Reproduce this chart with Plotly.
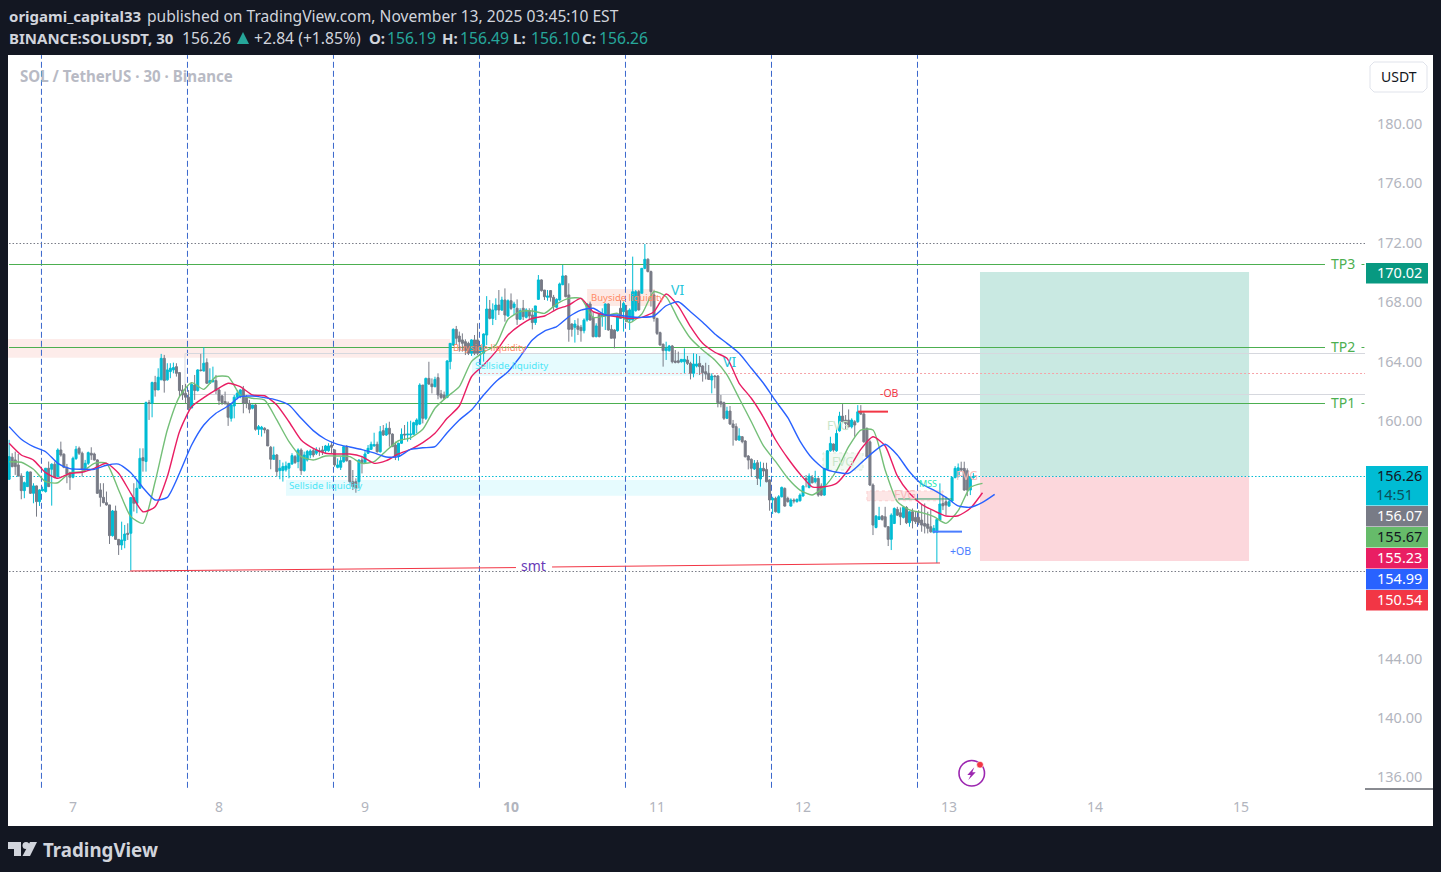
import pandas as pd
import plotly.graph_objects as go

W = 1441
H = 872

# candles, 30 minute bars
open_px = [
    156.08,157.56,157.38,157.04,156.30,155.31,155.58,156.57,155.13,155.63,
    154.57,155.31,155.25,156.82,156.75,157.09,156.26,158.05,157.76,156.88,
    156.48,156.21,157.47,158.16,157.83,156.75,157.15,157.83,157.78,157.38,
    155.36,154.86,154.50,154.35,152.28,153.94,152.03,151.65,151.95,152.44,
    152.44,154.84,154.46,155.47,157.53,157.27,161.24,161.19,162.59,162.09,
    162.77,164.22,162.77,163.33,163.44,163.66,163.26,162.09,161.86,161.60,
    160.88,162.42,162.05,163.44,163.37,163.93,162.54,162.65,162.72,162.09,
    161.69,161.31,161.19,160.18,161.01,161.60,161.64,162.14,161.60,161.19,
    160.86,161.08,159.44,159.44,159.51,159.40,158.23,157.42,157.71,156.66,
    156.66,156.71,156.82,157.11,157.60,157.27,158.05,156.66,157.37,157.71,
    158.00,157.83,158.00,158.05,158.00,158.00,158.38,158.05,156.88,156.88,
    157.26,158.27,157.33,155.91,155.91,155.91,157.37,157.19,157.82,158.09,
    158.32,158.43,157.93,159.35,159.06,159.51,159.12,158.38,157.64,158.50,
    159.12,159.06,159.06,159.10,159.73,159.80,162.42,160.18,162.87,162.49,
    162.31,162.92,161.82,161.75,161.59,164.00,165.12,166.17,165.72,165.46,
    165.34,165.23,164.56,165.46,165.46,164.67,164.56,165.79,167.54,166.91,
    167.47,167.81,167.47,168.15,167.07,168.10,167.65,167.59,166.85,167.59,
    166.98,167.43,167.14,166.63,168.19,169.50,168.82,168.33,168.78,168.33,
    167.66,168.15,169.18,169.77,168.49,166.53,166.31,166.40,166.31,166.08,
    166.80,167.88,166.98,165.68,167.21,167.07,167.14,167.88,166.17,166.13,
    166.08,167.59,167.36,167.43,166.80,166.80,167.43,168.71,168.60,170.28,
    170.89,170.06,168.49,166.91,165.95,165.16,164.74,164.74,165.05,164.04,
    164.06,163.99,163.99,164.11,163.88,163.21,163.70,163.88,163.70,163.32,
    163.21,162.76,163.03,163.03,161.30,161.23,160.18,160.67,159.80,159.62,
    158.72,158.94,158.65,157.64,157.42,156.77,157.19,156.09,156.81,156.74,
    156.03,154.68,154.79,153.83,154.90,155.46,154.79,154.27,154.68,154.57,
    154.63,154.95,156.13,155.53,156.20,155.91,156.13,155.62,155.01,156.74,
    157.99,158.45,157.99,159.34,160.33,160.06,160.06,159.61,159.95,159.95,
    160.62,160.47,159.50,158.60,155.69,152.83,153.37,153.60,153.55,152.88,
    152.03,153.10,154.05,153.82,153.51,154.18,153.15,153.89,153.51,153.51,
    153.33,153.10,153.06,152.88,152.50,152.50,153.33,154.45,154.56,154.27,
    154.61,156.20,156.25,156.81,156.81,156.65,155.35,156.19,
]
high_px = [
    158.73,157.83,157.94,157.78,156.48,155.92,156.64,156.59,155.81,155.65,
    155.40,155.58,156.82,157.27,157.15,157.27,158.16,158.61,157.83,157.11,
    156.59,157.60,158.32,158.28,157.94,157.38,157.94,158.23,157.87,157.42,
    155.81,155.81,155.25,154.35,154.01,154.30,152.03,153.22,153.00,153.11,
    154.84,155.81,156.03,158.16,158.16,161.31,161.42,162.65,163.04,163.55,
    164.52,164.45,163.89,163.89,163.93,163.89,163.30,162.42,162.50,162.09,
    162.54,163.10,163.48,164.52,164.97,164.22,163.55,163.66,163.10,162.20,
    161.75,161.98,161.31,161.15,161.75,162.09,162.14,162.36,161.75,161.42,
    161.08,161.15,159.73,159.67,159.58,159.44,158.32,158.28,157.78,157.38,
    157.20,157.27,157.15,157.83,157.71,158.16,158.16,157.94,158.05,158.09,
    158.16,158.23,158.21,158.32,158.39,158.50,158.61,158.09,157.48,157.60,
    158.32,158.38,157.37,156.70,156.14,157.42,157.60,158.05,158.38,158.61,
    159.21,158.61,159.66,159.73,159.84,159.95,159.17,158.61,158.54,159.50,
    159.73,159.95,160.02,159.95,160.18,162.54,162.42,162.92,163.99,162.87,
    162.98,163.21,162.09,161.98,164.11,165.23,166.24,166.40,166.02,165.90,
    165.50,165.34,165.50,165.79,166.58,165.12,165.90,168.41,168.15,167.92,
    168.26,168.82,168.37,168.93,168.19,168.59,168.03,168.19,167.59,168.15,
    167.59,167.59,167.59,167.75,169.83,169.54,168.82,168.82,168.82,168.49,
    168.26,169.32,170.51,169.83,169.27,166.58,166.80,166.91,166.47,166.91,
    167.92,168.04,167.36,166.58,167.25,167.59,167.92,167.92,166.47,166.17,
    167.14,168.15,168.04,167.81,167.59,171.07,168.82,168.82,170.28,171.92,
    170.96,170.13,168.80,166.95,166.02,165.23,165.34,165.12,165.12,164.78,
    164.67,164.15,164.89,164.38,163.99,164.56,164.51,164.38,163.77,163.92,
    163.77,163.21,163.10,163.10,161.75,161.30,160.96,161.01,160.07,159.84,
    159.51,158.99,158.72,157.71,157.48,157.37,157.37,157.26,157.19,157.19,
    156.07,154.90,154.90,155.01,155.58,155.53,154.90,154.79,154.79,154.79,
    155.13,155.69,156.36,156.47,156.36,156.65,156.20,155.80,156.81,158.04,
    158.94,158.49,159.50,160.62,161.14,160.40,160.78,160.18,160.06,161.07,
    161.07,160.62,159.57,158.71,155.80,153.66,154.22,153.66,154.22,152.92,
    153.78,154.18,154.22,154.18,154.22,154.27,153.96,154.11,153.89,154.00,
    154.34,154.45,153.89,154.05,152.99,153.44,155.80,155.01,154.90,154.67,
    156.25,156.96,157.14,157.26,157.26,156.81,156.29,156.49,
]
low_px = [
    156.03,156.88,156.37,156.26,154.73,154.80,155.58,155.09,154.46,153.56,
    154.28,155.25,155.18,155.58,154.30,156.14,156.21,157.60,156.82,155.81,
    155.36,156.14,157.38,157.71,156.26,156.66,157.04,157.38,157.33,155.09,
    154.23,154.46,154.30,151.72,152.21,151.99,150.98,151.32,151.43,151.99,
    149.92,153.90,153.79,155.47,156.59,156.59,160.07,160.25,161.64,162.09,
    162.77,161.91,162.72,162.88,163.21,162.99,161.64,161.42,161.19,160.70,
    160.86,161.42,161.98,163.33,163.33,162.50,162.50,162.58,161.82,161.08,
    161.08,161.15,159.67,159.96,160.18,161.46,161.53,160.52,160.86,160.52,
    160.79,159.35,159.06,158.95,159.17,158.32,156.75,157.38,156.26,156.08,
    155.92,156.59,156.14,157.04,157.11,156.82,156.37,156.59,157.27,157.49,
    157.56,157.71,157.65,157.71,157.83,157.93,157.82,156.92,156.81,156.70,
    157.19,157.26,155.80,155.35,155.17,155.46,156.47,157.10,157.78,158.05,
    158.27,157.87,157.87,158.99,158.99,158.27,158.27,157.37,157.33,158.45,
    158.72,158.61,158.72,159.06,159.17,159.73,159.84,160.07,162.43,161.86,
    162.27,161.46,161.46,161.42,161.53,163.48,165.05,165.12,164.67,164.67,
    164.44,164.44,164.38,164.44,164.44,163.77,164.00,165.11,166.84,166.46,
    166.80,167.14,167.41,166.69,167.02,167.47,167.14,166.47,166.80,166.80,
    166.91,166.80,166.17,166.47,168.15,168.71,168.15,168.10,168.04,167.43,
    167.59,168.10,169.14,168.33,165.34,165.68,165.28,165.79,165.34,165.90,
    166.69,166.76,165.63,165.63,165.63,166.35,166.13,166.08,165.57,164.89,
    166.02,166.91,166.02,166.69,166.13,166.76,167.36,167.43,168.60,170.22,
    170.01,167.70,166.69,165.79,165.07,163.66,164.11,164.67,163.88,163.88,
    163.88,163.93,163.21,163.77,162.80,162.94,163.61,163.10,162.65,162.80,
    162.76,161.86,162.20,160.92,160.92,160.07,160.13,159.73,158.34,158.67,
    158.67,158.50,157.55,156.74,156.25,156.70,155.69,155.58,156.25,155.87,
    153.96,153.74,153.83,153.78,154.85,154.23,154.50,154.23,154.45,154.50,
    154.57,154.90,155.53,155.46,155.80,155.80,154.90,154.94,154.97,156.70,
    157.93,157.93,157.93,159.28,159.88,159.39,159.57,159.50,158.94,159.88,
    160.40,158.53,157.55,155.62,152.32,152.77,153.33,153.28,152.83,151.58,
    151.31,153.06,153.60,152.99,153.44,153.06,152.88,152.77,153.06,152.99,
    152.54,152.43,152.43,152.47,152.43,150.43,153.28,154.00,153.66,154.22,
    154.56,156.13,156.20,156.58,155.30,154.94,155.01,156.10,
]
close_px = [
    157.60,156.93,156.93,156.30,155.31,155.85,156.57,155.13,155.63,154.57,
    155.36,155.40,156.82,155.58,157.09,156.21,158.05,157.71,156.88,156.43,
    156.21,157.49,158.10,157.83,156.75,157.15,157.87,157.71,157.38,155.13,
    154.86,154.50,154.35,152.28,153.94,152.03,151.65,151.99,152.39,152.37,
    154.84,154.46,155.47,157.49,157.33,161.24,161.19,162.59,162.09,162.95,
    164.22,162.72,163.44,163.55,163.60,163.21,162.05,161.75,161.60,160.86,
    162.47,162.05,163.44,163.40,163.89,162.54,162.72,162.77,162.05,161.37,
    161.24,161.15,160.25,161.08,161.60,161.87,162.09,161.19,161.19,160.79,
    161.08,159.44,159.62,159.58,159.40,158.32,157.42,157.71,156.59,156.82,
    156.93,156.97,157.15,157.67,157.20,158.05,156.66,157.71,157.94,157.98,
    157.71,158.05,157.94,157.94,158.32,158.32,158.23,157.04,157.04,157.33,
    158.27,157.33,155.91,155.58,155.46,157.37,157.19,157.78,158.16,158.43,
    158.41,157.93,159.28,159.06,159.51,159.12,158.27,157.64,158.50,159.10,
    159.06,159.12,159.12,159.89,160.07,162.42,160.18,162.87,162.49,162.31,
    162.80,161.75,161.59,161.53,164.04,165.23,166.17,165.57,165.34,165.23,
    164.74,164.56,165.46,164.56,164.56,164.96,165.86,167.54,166.91,167.47,
    167.81,167.47,168.15,167.14,168.10,167.58,167.88,166.85,167.43,167.03,
    167.48,167.07,166.63,167.75,169.50,168.78,168.37,168.42,168.33,167.70,
    168.19,169.23,169.77,168.37,166.17,166.17,166.53,166.17,166.08,166.80,
    167.88,166.80,165.68,166.40,165.68,167.21,167.88,166.13,165.57,165.57,
    167.07,166.91,167.92,166.69,167.48,168.71,168.71,167.48,170.28,170.89,
    170.06,168.71,166.91,165.90,165.12,164.74,164.89,165.05,163.99,163.95,
    163.95,164.15,164.15,163.88,163.21,163.84,163.84,163.66,163.25,163.16,
    162.80,163.03,162.99,161.23,161.14,160.18,160.67,159.80,159.57,158.72,
    158.99,158.61,157.59,157.37,156.81,157.15,156.14,156.81,156.63,155.91,
    154.68,154.79,153.89,154.90,155.53,154.27,154.57,154.68,154.62,154.72,
    155.01,155.62,156.02,156.29,155.84,156.13,155.01,155.01,156.81,157.99,
    158.49,158.04,159.16,160.33,159.95,159.84,159.61,160.06,159.73,160.62,
    160.47,158.60,157.59,155.69,152.99,153.60,153.55,153.37,152.88,152.03,
    153.66,154.11,153.66,153.55,154.18,153.15,153.89,153.28,153.22,153.15,
    152.99,152.92,152.77,152.54,152.77,153.37,154.41,154.29,154.34,154.56,
    156.20,156.81,156.85,156.70,155.35,155.35,156.25,156.26,
]

# moving averages, one reading every 2 hours
ma_fast = [
    157.26,157.22,156.75,155.91,155.84,156.52,156.59,157.15,157.15,155.35,
    153.56,153.11,155.91,159.39,161.64,162.58,162.13,162.98,162.98,161.75,
    161.53,161.41,160.07,158.61,157.60,157.37,157.64,157.64,157.60,157.15,
    157.26,158.00,158.67,158.87,159.44,160.86,161.64,162.31,164.00,164.63,
    165.12,166.85,167.36,167.41,167.25,167.88,168.26,168.26,166.98,167.07,
    167.25,166.62,167.21,168.71,168.37,166.85,165.57,164.78,164.11,163.10,
    161.53,159.95,158.32,157.26,156.14,155.35,155.02,155.57,156.65,158.27,
    159.39,159.39,156.70,154.57,154.01,153.83,153.56,153.11,153.96,155.53,
    155.80,
]
ma_mid = [
    158.50,157.71,157.37,156.52,156.14,156.48,156.55,156.81,157.15,156.48,
    155.13,153.89,154.23,156.25,159.28,160.96,161.57,162.09,162.54,162.31,
    161.75,161.70,161.08,159.95,158.72,158.16,157.83,157.78,157.78,157.60,
    157.15,157.33,157.78,158.09,158.54,159.17,160.18,161.01,162.98,163.77,
    164.67,165.79,166.46,166.91,167.07,167.52,167.81,168.26,167.36,167.14,
    167.02,166.91,166.98,167.36,168.55,167.74,166.35,165.23,164.63,164.22,
    162.54,161.53,160.25,158.72,157.49,156.43,155.57,155.57,155.80,156.75,
    158.09,158.94,158.32,156.30,155.13,154.39,153.96,153.60,153.62,154.12,
    155.17,
]
ma_slow = [
    159.62,158.77,158.27,157.93,157.15,156.79,156.75,156.75,157.02,157.10,
    156.52,155.51,154.68,154.86,156.48,158.38,159.73,160.52,161.01,161.64,
    161.68,161.57,161.41,161.08,160.18,159.35,158.77,158.43,158.25,158.07,
    157.85,157.58,157.60,158.09,158.20,158.27,159.21,160.07,160.74,161.75,
    162.65,163.32,164.33,165.45,166.06,166.35,167.02,167.47,167.59,167.14,
    167.14,167.02,166.98,167.07,167.76,168.03,167.36,166.65,165.86,165.23,
    164.56,163.55,162.54,161.35,160.22,158.65,157.49,156.77,156.55,156.48,
    157.15,157.89,158.43,157.71,156.58,155.76,155.35,154.86,154.28,154.19,
    154.52,155.06,
]

# price levels
top_dotted = 171.952
low_dotted = 149.865
last_price = 156.262
tp_levels = [170.538, 164.949, 161.178]
tp_names = ["TP3", "TP2", "TP1"]
grey_levels = [164.545, 161.784]
red_dotted = 163.198
session_lines = [6.784, 7.784, 8.784, 9.784, 10.784, 11.784, 12.784]

# axes
y_ticks = [136, 140, 144, 160, 164, 168, 172, 176, 180]
day_ticks = [7, 8, 9, 10, 11, 12, 13, 14, 15]
day_names = ["7", "8", "9", "<b>10</b>", "11", "12", "13", "14", "15"]

# boxes on the right price scale
side_labels = ["170.02", "156.07", "155.67", "155.23", "154.99", "150.54"]
side_colors = ["#089981", "#787B86", "#66BB6A", "#E91E63", "#2962FF", "#F23645"]
side_text = ["white", "white", "#131722", "white", "white", "white"]
side_tops = [263, 506, 527, 548, 569, 590]

FONT = "Noto Sans"
UP = "#00BCD4"
DOWN = "#787B86"
BG = "#131722"


def t(d):
    # day of november as a float -> timestamp
    return str(pd.Timestamp("2025-11-01") + pd.Timedelta(days=d - 1))


def px(x):
    return x / W


def py(y):
    return 1 - y / H


def path(points):
    return "M" + " L".join(f"{px(a)} {py(b)}" for a, b in points) + " Z"


fig = go.Figure()

bar_time = pd.date_range("2025-11-06 13:30", periods=len(open_px), freq="30min")
ma_time = pd.date_range("2025-11-06 13:30", periods=len(ma_slow), freq="2h")

fig.add_trace(go.Candlestick(
    x=bar_time, open=open_px, high=high_px, low=low_px, close=close_px,
    increasing=dict(line=dict(color=UP, width=1), fillcolor=UP),
    decreasing=dict(line=dict(color=DOWN, width=1), fillcolor=DOWN),
    whiskerwidth=0, showlegend=False, hoverinfo="skip",
))

for vals, col in [(ma_fast, "#74BF78"), (ma_mid, "#E91E63"), (ma_slow, "#2962FF")]:
    fig.add_trace(go.Scatter(
        x=ma_time[:len(vals)], y=vals, mode="lines",
        line=dict(color=col, width=1.4, shape="spline", smoothing=0.6),
        showlegend=False, hoverinfo="skip",
    ))


def box(x0, x1, y0, y1, fill, border=None, dash=None):
    line = dict(width=0)
    if border:
        line = dict(color=border, width=1, dash=dash)
    fig.add_shape(type="rect", xref="x", yref="y", x0=t(x0), x1=t(x1), y0=y0, y1=y1,
                  fillcolor=fill, line=line, layer="below")


def hline(level, x0, x1, color, dash=None, width=1, layer="above"):
    fig.add_shape(type="line", xref="x", yref="y", x0=t(x0), x1=t(x1), y0=level, y1=level,
                  line=dict(color=color, width=width, dash=dash), layer=layer)


def label(d, level, text, size, color, anchor="left"):
    fig.add_annotation(x=t(d), y=level, xref="x", yref="y", text=text, showarrow=False,
                       xanchor=anchor, yanchor="middle", borderpad=0,
                       font=dict(family=FONT, size=size, color=color))


def note(x, y, text, size, color, anchor="left"):
    fig.add_annotation(x=px(x), y=py(y), xref="paper", yref="paper", text=text, showarrow=False,
                       xanchor=anchor, yanchor="middle", borderpad=0,
                       font=dict(family=FONT, size=size, color=color))


START = 6.5548
END = 15.849

# white chart card
fig.add_shape(type="rect", xref="paper", yref="paper", x0=px(8), x1=px(1433), y0=py(826), y1=py(55),
              fillcolor="white", line=dict(width=0), layer="below")

# zones
box(START, 9.582, 164.26, 165.52, "#fdecea")
box(9.733, 11.36, 163.05, 164.51, "#e6fbfe")
box(8.459, 11.76, 154.97, 156.03, "#e6fbfe")
box(10.521, 10.986, 167.74, 168.89, "#fde9e4")
box(12.137, 12.411, 156.70, 157.85, "#f3f9f3", "#d5ecd6", "3px,3px")
box(12.438, 12.959, 154.63, 155.29, "#fde6e6", "#fbd0d0", "3px,3px")

# long / short position
box(13.212, 15.055, 156.26, 170.03, "#c9e9e2")
box(13.212, 15.055, 150.57, 156.26, "#fcd7dc")

# session separators
for d in session_lines:
    fig.add_shape(type="line", xref="x", yref="y", x0=t(d), x1=t(d), y0=135.3, y1=184.64,
                  line=dict(color="#3a67cc", width=1, dash="6px,3px"), layer="below")

# horizontal levels
hline(top_dotted, 6.562, END, "#787B86", "1.5px,2px", layer="below")
hline(low_dotted, 6.562, END, "#787B86", "1.5px,2px", layer="below")
hline(last_price, 6.562, END, UP, "1.5px,2px", layer="below")
hline(red_dotted, 9.788, END, "#f6a3a8", "2px,2px", layer="below")
for lv in grey_levels:
    hline(lv, 7.767, END, "#d6d8de", layer="below")
fig.add_shape(type="line", xref="x", yref="y", x0=t(7.767), x1=t(7.767), y0=grey_levels[1], y1=grey_levels[0],
              line=dict(color="#d6d8de", width=1), layer="below")
for lv, name in zip(tp_levels, tp_names):
    hline(lv, 6.562, 15.575, "#4CAF50", layer="below")
    label(15.612, lv + 0.09, name, 14, "#4CAF50")
    hline(lv, 15.825, 15.845, "#4CAF50", layer="below")

# smt line
fig.add_shape(type="line", xref="x", yref="y", x0=t(7.390), x1=t(10.034), y0=149.90, y1=150.13,
              line=dict(color="#F23645", width=1))
fig.add_shape(type="line", xref="x", yref="y", x0=t(10.281), x1=t(12.938), y0=150.17, y1=150.44,
              line=dict(color="#F23645", width=1))
label(10.151, 150.24, "smt", 14, "#673AB7", "center")

# order blocks and mss
hline(160.63, 12.377, 12.582, "#F23645", width=2)
label(12.52, 161.89, "-OB", 10.5, "#F23645")
hline(152.55, 12.890, 13.089, "#4a7dff", width=2)
label(13.0, 151.25, "+OB", 10.5, "#4a7dff")
hline(154.75, 12.651, 13.021, "#2e9e6b")
label(12.856, 155.76, "MSS", 9, "#1de9b6", "center")

# texts on the chart
label(9.596, 164.92, "Buyside liquidity", 9.5, "#ff8a65")
label(10.541, 168.35, "Buyside liquidity", 9.5, "#ff8a65")
label(9.747, 163.77, "Sellside liquidity", 9.7, "#4ee6f7")
label(8.473, 155.69, "Sellside liquidity", 9.7, "#4ee6f7")
label(11.09, 168.85, "VI", 14, "#26C6DA")
label(11.445, 164.0, "VI", 14, "#26C6DA")
label(12.274, 157.28, "FVG", 12, "#c8e6c9", "center")
label(12.24, 159.73, "FVG", 12, "#c8e6c9", "center")
label(12.699, 155.02, "FVG", 12, "#f7bcbc", "center")
label(13.123, 156.36, "FVG", 12, "#f7bcbc", "center")

# price scale boxes
fig.add_shape(type="rect", xref="paper", yref="paper", x0=px(1366), x1=px(1428), y0=py(505.5), y1=py(466),
              fillcolor=UP, line=dict(width=0))
note(1423, 475.5, "156.26", 14.5, "#131722", "right")
note(1414, 494, "14:51", 14.5, "#0b4f5a", "right")
for txt, col, tc, top in zip(side_labels, side_colors, side_text, side_tops):
    fig.add_shape(type="rect", xref="paper", yref="paper", x0=px(1366), x1=px(1428), y0=py(top + 20.5), y1=py(top),
                  fillcolor=col, line=dict(width=0))
    note(1423, top + 8.5, txt, 14.5, tc, "right")

# short rule under the price scale
fig.add_shape(type="line", xref="paper", yref="paper", x0=px(1365), x1=px(1433), y0=py(789), y1=py(789),
              line=dict(color=BG, width=1))

# currency button
fig.add_shape(type="path", xref="paper", yref="paper",
              path=path([(1374, 62), (1423, 62), (1427, 66), (1427, 88), (1423, 92), (1374, 92), (1370, 88), (1370, 66)]),
              fillcolor="white", line=dict(color="#e0e3eb", width=1))
note(1398.5, 76, "USDT", 14, "#131722", "center")

# flash icon
fig.add_shape(type="circle", xref="paper", yref="paper", x0=px(959), x1=px(984.5), y0=py(786), y1=py(760.5),
              fillcolor="white", line=dict(color="#9C27B0", width=1.6))
fig.add_shape(type="path", xref="paper", yref="paper",
              path=path([(974.3, 767.3), (967.3, 775), (970.7, 775), (968.3, 780), (975.7, 772.3), (972.3, 772.3)]),
              fillcolor="#9C27B0", line=dict(width=0))
fig.add_shape(type="circle", xref="paper", yref="paper", x0=px(976.7), x1=px(983.3), y0=py(768), y1=py(761.4),
              fillcolor="#F23645", line=dict(color="white", width=0.5))

# header
note(8, 16, "<b>origami_capital33</b>", 15, "#d1d4dc")
note(146, 16, "published on TradingView.com, November 13, 2025 03:45:10 EST", 15.6, "#d1d4dc")
note(8, 37.5, "<b>BINANCE:SOLUSDT, 30</b>", 15, "#d1d4dc")
note(181.5, 37.5, "156.26", 15.7, "#d1d4dc")
fig.add_shape(type="path", xref="paper", yref="paper",
              path=path([(237, 44), (249, 44), (243, 32)]), fillcolor="#26A69A", line=dict(width=0))
note(252.5, 37.5, "+2.84 (+1.85%)", 15.7, "#d1d4dc")
for lx, vx, name, val in [(368, 385.5, "O:", "156.19"), (441, 458.5, "H:", "156.49"),
                          (512, 529.5, "L:", "156.10"), (581, 597.5, "C:", "156.26")]:
    note(lx, 37.5, f"<b>{name}</b>", 15, "#d1d4dc")
    note(vx, 37.5, val, 15.7, "#26A69A")

# watermark
note(18.5, 76, "<b>SOL / TetherUS · 30 · Binance</b>", 15.1, "#b8bac4")

# footer logo
fig.add_shape(type="path", xref="paper", yref="paper",
              path=path([(8, 842), (21, 842), (21, 856), (14, 856), (14, 849), (8, 849)]),
              fillcolor="#d1d4dc", line=dict(width=0))
fig.add_shape(type="circle", xref="paper", yref="paper", x0=px(22.5), x1=px(29.5), y0=py(849), y1=py(842),
              fillcolor="#d1d4dc", line=dict(width=0))
fig.add_shape(type="path", xref="paper", yref="paper",
              path=path([(30, 842), (37, 842), (30, 856), (22.5, 856)]),
              fillcolor="#d1d4dc", line=dict(width=0))
note(42, 849, "<b>TradingView</b>", 18.7, "#d1d4dc")

fig.update_layout(
    width=W, height=H,
    margin=dict(l=0, r=0, t=0, b=0),
    paper_bgcolor=BG,
    plot_bgcolor="rgba(0,0,0,0)",
    showlegend=False,
    boxgap=0.05,
    xaxis=dict(
        domain=[px(8), px(1365)],
        range=[t(START), t(END)],
        rangeslider=dict(visible=False),
        tickmode="array",
        tickvals=[t(d) for d in day_ticks],
        ticktext=day_names,
        tickfont=dict(family=FONT, size=14, color="#b2b5be"),
        ticks="outside", ticklen=5, tickcolor="rgba(0,0,0,0)",
        showgrid=False, zeroline=False, showline=False,
    ),
    yaxis=dict(
        domain=[py(789), py(55)],
        range=[135.219, 184.646],
        side="right",
        tickmode="array",
        tickvals=y_ticks,
        ticktext=[f"{v:.2f}" for v in y_ticks],
        tickfont=dict(family=FONT, size=14.5, color="#b2b5be"),
        ticks="outside", ticklen=8, tickcolor="rgba(0,0,0,0)",
        showgrid=False, zeroline=False, showline=False,
    ),
)

fig.write_html("out.html", config={"displayModeBar": False},
               post_script="document.body.style.margin='0';document.body.style.overflow='hidden';")
